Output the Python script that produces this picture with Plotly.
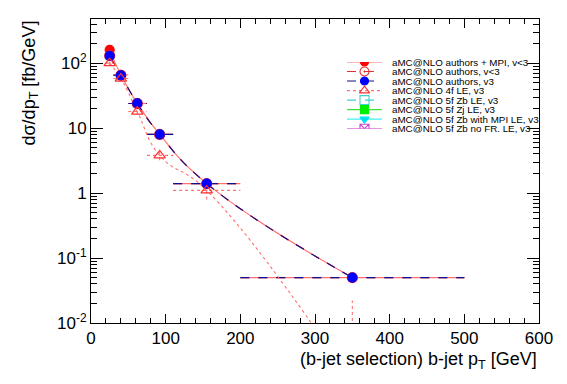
import plotly.graph_objects as go

# ---- data ----
bin_lo = [20, 30, 50, 75, 110, 200]
bin_hi = [30, 50, 75, 110, 200, 500]
x_pts = [25, 40, 62, 92, 155, 350]

mpi_v = [160, 66, 24, 8.0, 1.4, 0.05]          # aMC@NLO authors + MPI, v<3
auth_old_v = [130, 65, 24, 8.0, 1.4, 0.05]     # aMC@NLO authors, v<3
auth_v3 = [130, 65, 24, 8.0, 1.4, 0.05]        # aMC@NLO authors, v3
lo4f_v = [100, 58, 18, 3.8, 1.1, 0.0012]       # aMC@NLO 4f LE, v3
lo4f_err = [6, 5, 2.0, 0.6, 0.3, 0.021]

legend_names = [
    "aMC@NLO authors + MPI, v<3",
    "aMC@NLO authors, v<3",
    "aMC@NLO authors, v3",
    "aMC@NLO 4f LE, v3",
    "aMC@NLO 5f Zb LE, v3",
    "aMC@NLO 5f Zj LE, v3",
    "aMC@NLO 5f Zb with MPI LE, v3",
    "aMC@NLO 5f Zb no FR. LE, v3",
]
line_colors = ["#ff6f6f", "#e03030", "#101090", "#ff7070", "#40d0d0", "#40e040", "#40f0f0", "#d040d0"]
line_dash = ["solid", "dash", "dash", "dot", "dash", "solid", "solid", "solid"]
mk_colors = ["#ff0000", "#e03030", "#0000ff", "#ff3030", "#40d0d0", "#00ee00", "#00e0f0", "#d040d0"]
mk_symbols = ["circle", "circle-open-dot", "circle", "triangle-up-open", "square-open", "square", "triangle-down", "square-x-open"]

series = [
    (mpi_v, None, 0),
    (auth_old_v, None, 1),
    (auth_v3, None, 2),
    (lo4f_v, lo4f_err, 3),
]

fig = go.Figure()

for vals, err, k in series:
    fig.add_trace(go.Scatter(x=x_pts, y=vals, mode="lines", line=dict(color=line_colors[k], dash=line_dash[k], width=1.1, shape="spline", smoothing=1.3), showlegend=False, hoverinfo="skip"))
    hx, hy = [], []
    for lo, hi, v in zip(bin_lo, bin_hi, vals):
        hx += [lo, hi, None]
        hy += [v, v, None]
    fig.add_trace(go.Scatter(x=hx, y=hy, mode="lines", line=dict(color=line_colors[k], dash=line_dash[k], width=1.1), showlegend=False, hoverinfo="skip"))
    if err is not None:
        vx, vy = [], []
        for xp, v, e in zip(x_pts, vals, err):
            vx += [xp, xp, None]
            vy += [max(v - e, 1e-4), v + e, None]
        fig.add_trace(go.Scatter(x=vx, y=vy, mode="lines", line=dict(color=line_colors[k], dash="dot", width=1.1), showlegend=False, hoverinfo="skip"))

for vals, err, k in series:
    sym = mk_symbols[k]
    fig.add_trace(go.Scatter(x=x_pts, y=vals, mode="markers", marker=dict(symbol=sym, size=9 if "open" not in sym else 10, color=mk_colors[k], line=dict(color=mk_colors[k], width=1.2)), showlegend=False, hoverinfo="skip"))

# ---- custom compact legend on overlay axes ----
for i, name in enumerate(legend_names):
    fig.add_trace(go.Scatter(x=[0, 1], y=[i, i], xaxis="x2", yaxis="y2", mode="lines", line=dict(color=line_colors[i], dash=line_dash[i], width=1.1), showlegend=False, hoverinfo="skip"))
    sym = mk_symbols[i]
    fig.add_trace(go.Scatter(x=[0.5], y=[i], xaxis="x2", yaxis="y2", mode="markers", marker=dict(symbol=sym, size=8 if "open" not in sym else 9, color=mk_colors[i], line=dict(color=mk_colors[i], width=1.1)), showlegend=False, hoverinfo="skip"))
    fig.add_annotation(text=name, xref="paper", x=(390 - 91) / 448, xanchor="left", yref="y2", y=i, yanchor="middle", showarrow=False, font=dict(size=9.8, color="black", family="Liberation Sans"))

tick_font = dict(family="Liberation Sans", size=17, color="black")
title_font = dict(family="Liberation Sans", size=18, color="black")

# page body has an 8px default margin, so the figure is 8px smaller and offset
fig.update_layout(
    width=559, height=376,
    margin=dict(l=83, r=28, t=11, b=61, autoexpand=False),
    plot_bgcolor="white", paper_bgcolor="white",
    font=dict(family="Liberation Sans", color="black"),
    showlegend=False,
    xaxis=dict(range=[0, 600], tickvals=[0, 100, 200, 300, 400, 500, 600], ticks="inside", ticklen=9, tickcolor="black",
               minor=dict(dtick=20, ticks="inside", ticklen=5, tickcolor="black", showgrid=False),
               showline=True, linecolor="black", linewidth=1, mirror="allticks", showgrid=False, zeroline=False,
               tickfont=tick_font, automargin=False),
    yaxis=dict(type="log", range=[-2, 2.68], tickvals=[0.01, 0.1, 1, 10, 100],
               ticktext=["10<sup>-2</sup>", "10<sup>-1</sup>", "1", "10", "10<sup>2</sup>"],
               ticks="inside", ticklen=12, tickcolor="black",
               minor=dict(tickvals=[m * 10 ** e for e in range(-2, 3) for m in range(2, 10)], ticks="inside", ticklen=6, tickcolor="black", showgrid=False),
               showline=True, linecolor="black", linewidth=1, mirror="allticks", showgrid=False, zeroline=False,
               tickfont=tick_font, automargin=False),
    xaxis2=dict(domain=[(347 - 91) / 448, (382 - 91) / 448], range=[0, 1], anchor="y2", visible=False, fixedrange=True),
    yaxis2=dict(domain=[(323 - 128.7) / 304, (323 - 62) / 304], range=[7, 0], anchor="x2", visible=False, fixedrange=True),
)

fig.add_annotation(text="(b-jet selection) b-jet p<sub>T</sub> [GeV]", xref="paper", yref="paper", x=1, xanchor="right",
                   y=-(347 - 323) / 304, yanchor="top", showarrow=False, font=title_font)
fig.add_annotation(text="dσ/dp<sub>T</sub> [fb/GeV]", xref="paper", yref="paper", x=-(91 - 30) / 448, xanchor="center",
                   y=1, yanchor="top", textangle=-90, showarrow=False, font=title_font)

fig.write_html("out.html")
